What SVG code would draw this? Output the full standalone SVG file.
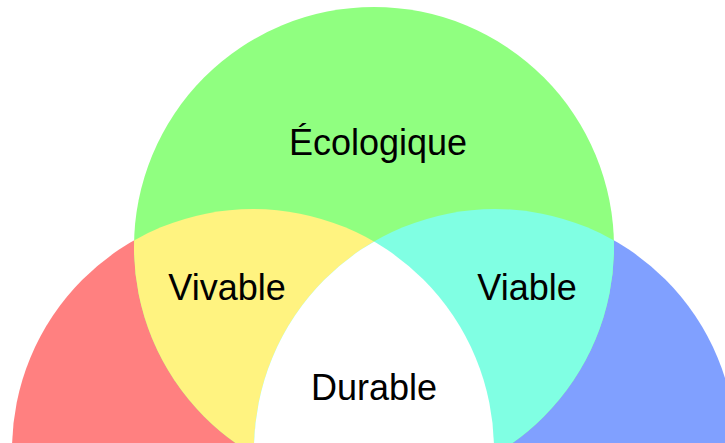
<svg xmlns="http://www.w3.org/2000/svg" width="725" height="443" viewBox="0 0 725 443">
  <style>
    .label { font-family: "Liberation Sans", Arial, Helvetica, sans-serif; font-size: 36px; fill: #000000; text-anchor: middle; }
  </style>
  <defs>
    <!-- the three circle shapes, reused for fills and clipping -->
    <circle id="c-eco" cx="374" cy="247" r="240"/>
    <circle id="c-soc" cx="253" cy="450" r="241"/>
    <circle id="c-econ" cx="495" cy="450" r="241"/>
    <clipPath id="clip-eco"><use href="#c-eco"/></clipPath>
    <clipPath id="clip-soc"><use href="#c-soc"/></clipPath>
    <clipPath id="clip-econ"><use href="#c-econ"/></clipPath>
  </defs>
  <rect width="725" height="443" fill="#ffffff"/>

  <g id="social">
    <use href="#c-soc" fill="#ff8080"/>
  </g>
  <g id="economique">
    <use href="#c-econ" fill="#80a0ff"/>
  </g>
  <g id="ecologique">
    <use href="#c-eco" fill="#90ff80"/>
    <text class="label" x="378" y="155">Écologique</text>
  </g>

  <!-- pairwise overlaps -->
  <g id="vivable">
    <g clip-path="url(#clip-eco)">
      <use href="#c-soc" fill="#fff380"/>
    </g>
    <text class="label" x="227" y="300">Vivable</text>
  </g>
  <g id="viable">
    <g clip-path="url(#clip-eco)">
      <use href="#c-econ" fill="#80ffe3"/>
    </g>
    <text class="label" x="527" y="300">Viable</text>
  </g>

  <!-- overlap of all three -->
  <g id="durable">
    <g clip-path="url(#clip-eco)">
      <g clip-path="url(#clip-soc)">
        <use href="#c-econ" fill="#ffffff"/>
      </g>
    </g>
    <text class="label" x="374" y="400">Durable</text>
  </g>
</svg>
